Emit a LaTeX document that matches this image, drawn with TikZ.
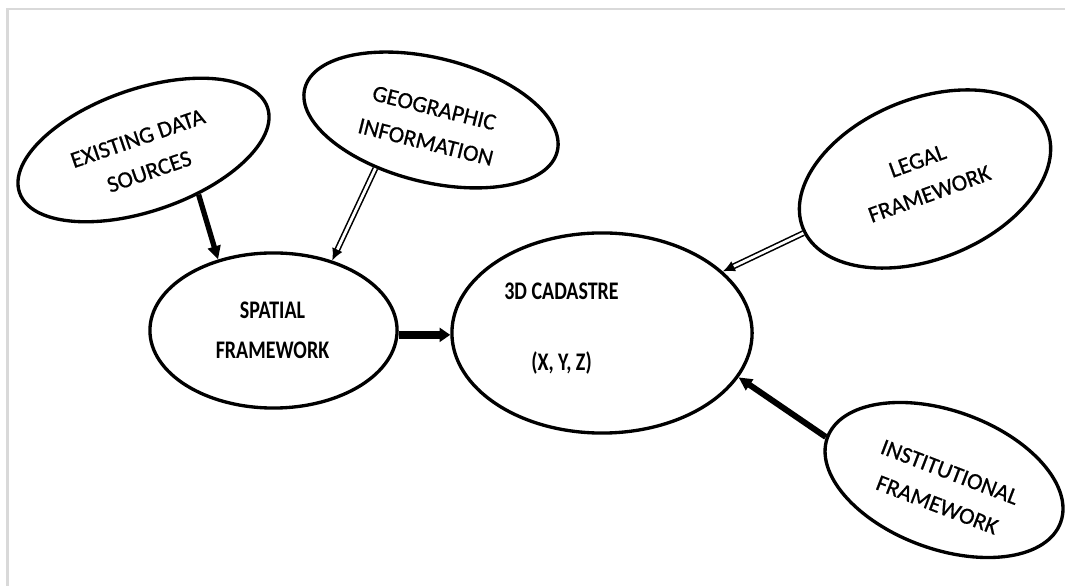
\documentclass[tikz,border=0pt]{standalone}
\usepackage{fontspec}
\usepackage{graphicx}
\setmainfont{Carlito}
\newfontfamily\capfont{Carlito}[FakeBold=0.7]
\usetikzlibrary{shapes.geometric,arrows.meta}
\definecolor{framegray}{HTML}{D9D9D9}
% condensed bold lettering for the two central bubbles
\newcommand\narrowtext[1]{\scalebox{0.79}[1]{#1}}
\begin{document}
\begin{tikzpicture}[x=0.01cm,y=-0.01cm,
  bubble/.style={draw=black,line width=0.95pt,ellipse,inner sep=0pt},
  caption/.style={inner sep=0pt,align=center,font=\capfont\fontsize{6.6pt}{10pt}\selectfont},
  corecaption/.style={inner sep=0pt,align=center,font=\bfseries\fontsize{7.2pt}{11.4pt}\selectfont},
  feed/.style={line width=1.5pt,-{Triangle[length=3.8pt,width=3.6pt]}},
  fatfeed/.style={line width=2.4pt,-{Triangle[length=3pt,width=3.9pt]}},
  dblfeed/.style={double,line width=0.45pt,double distance=0.8pt,-{Latex[length=3.4pt,width=3.2pt]}}]
\useasboundingbox (0,0) rectangle (1065,586);
% page frame
\draw[framegray,line width=0.7pt] (7.5,586) -- (7.5,9) -- (1065,9);

% bubbles
\node[bubble,rotate=19,minimum width=2.62cm,minimum height=1.22cm] (exist) at (143.5,150) {};
\node[bubble,rotate=-14,minimum width=2.6cm,minimum height=1.24cm] (geo) at (431,120) {};
\node[bubble,rotate=22,minimum width=2.63cm,minimum height=1.6cm] (legal) at (925,179) {};
\node[bubble,rotate=-20,minimum width=2.48cm,minimum height=1.38cm] (inst) at (944,480) {};
\node[bubble,minimum width=2.47cm,minimum height=1.55cm] (spatial) at (273.5,330.5) {};
\node[bubble,minimum width=3cm,minimum height=2cm] (cad) at (602,333) {};

% captions
\node[caption,rotate=19] (existtext) at (143.5,155) {EXISTING DATA\\SOURCES};
\node[caption,rotate=-14] (geotext) at (430,125) {GEOGRAPHIC\\INFORMATION};
\node[caption,rotate=20] (legaltext) at (923.5,177.5) {LEGAL\\FRAMEWORK};
\node[caption,rotate=-21] (insttext) at (943.5,488.5) {INSTITUTIONAL\\FRAMEWORK};
\node[corecaption] (spatialtext) at (272.5,330)
  {\narrowtext{SPATIAL}\\\narrowtext{FRAMEWORK}};
\node[corecaption] (cadtext) at (561.5,328.5)
  {\narrowtext{3D CADASTRE}\\[-2.4pt]\mbox{}\\\narrowtext{(X, Y, Z)}};

% connectors
\draw[feed] (exist.-58) -- (spatial.128);
\draw[dblfeed] (geo.-125) -- (spatial.50);
\draw[fatfeed] (spatial.-2) -- (spatial.-2 -| cad.west);
\draw[dblfeed] (legal.182) -- (cad.27);
\draw[feed,line width=1.7pt] (inst.west) -- (cad.-18);
\end{tikzpicture}
\end{document}
